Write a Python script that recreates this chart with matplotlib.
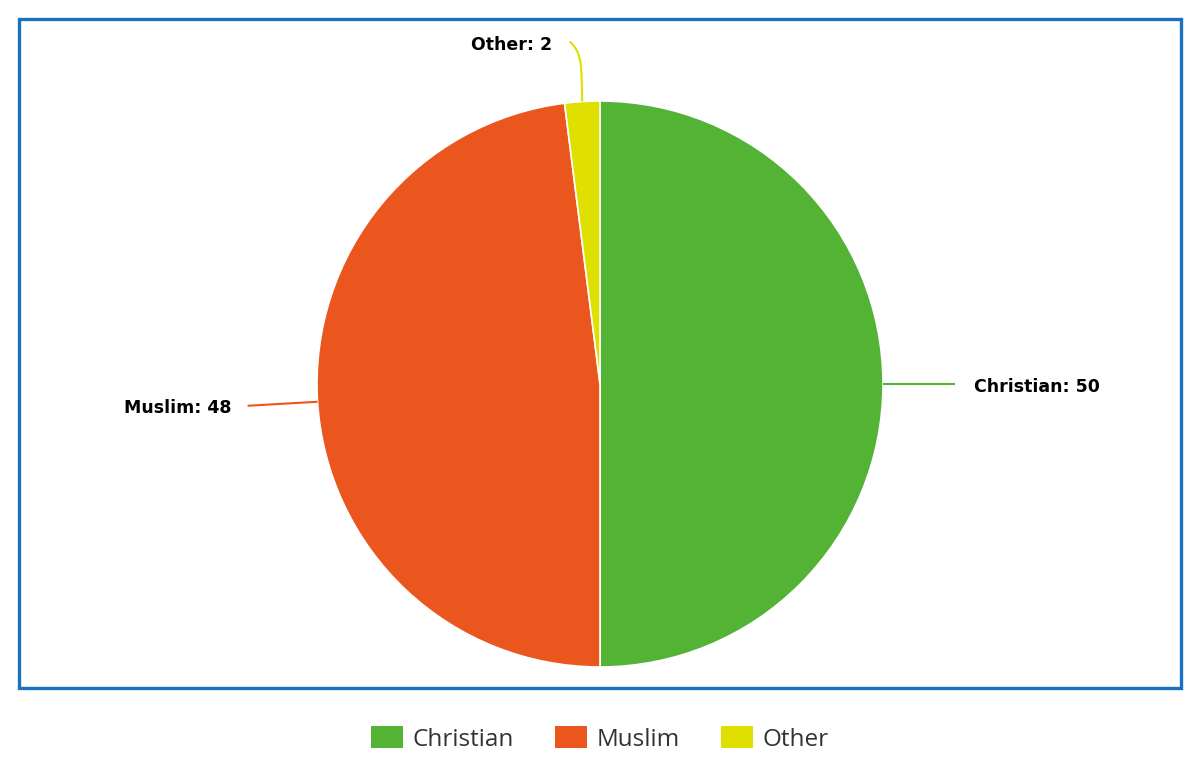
import numpy as np
import matplotlib.pyplot as plt
from matplotlib.patches import Rectangle

labels = ['Christian', 'Muslim', 'Other']
values = [50, 48, 2]
colors = ['#52B335', '#EB561E', '#DFDF00']

W, H = 1200, 766
fig = plt.figure(figsize=(12, 7.66), dpi=100)
ax = fig.add_axes([0, 0, 1, 1])

# outer blue frame
ax.add_patch(Rectangle((19, H - 688), 1162, 669, fill=False,
                       edgecolor='#1B70BF', linewidth=2.4))

cx, cy, r = 600, H - 384, 283
wedges, _ = ax.pie(values, colors=colors, startangle=90, counterclock=False,
                   center=(cx, cy), radius=r, frame=True,
                   wedgeprops=dict(edgecolor='white', linewidth=1.2))
ax.set_xlim(0, W)
ax.set_ylim(0, H)
ax.set_aspect('equal')
ax.axis('off')

# connector lines + labels
for w, lab, v, c in zip(wedges, labels, values, colors):
    mid = np.deg2rad((w.theta1 + w.theta2) / 2)
    x0, y0 = cx + r * np.cos(mid), cy + r * np.sin(mid)
    txt = '%s: %d' % (lab, v)
    if lab == 'Christian':
        xs, ys = [x0, x0 + 72], [y0, y0]
        tx, ty, ha = x0 + 91, y0 - 3, 'left'
    elif lab == 'Muslim':
        xs, ys = [x0, x0 - 70], [y0, y0 - 4]
        tx, ty, ha = x0 - 86, y0 - 6, 'right'
    else:
        t = np.linspace(0, 1, 30)
        xs = x0 - 1.5 * t - 11 * t ** 6
        ys = y0 + 60 * t
        tx, ty, ha = x0 - 30, y0 + 57, 'right'
    ax.plot(xs, ys, color=c, linewidth=1.5, solid_capstyle='butt')
    ax.text(tx, ty, txt, ha=ha, va='center', fontsize=12.5,
            fontweight='bold', family='DejaVu Sans', color='black')

leg = fig.legend(wedges, labels, loc='center', bbox_to_anchor=(0.5, 1 - 739 / H),
                 ncol=3, frameon=False, handlelength=1.3,
                 handleheight=1.0, handletextpad=0.4, columnspacing=1.7,
                 prop={'family': 'Open Sans', 'size': 17.5})
for t in leg.get_texts():
    t.set_color('#333333')
for p in leg.get_patches():
    p.set_linewidth(0)

fig.savefig('out.png', dpi=100)
